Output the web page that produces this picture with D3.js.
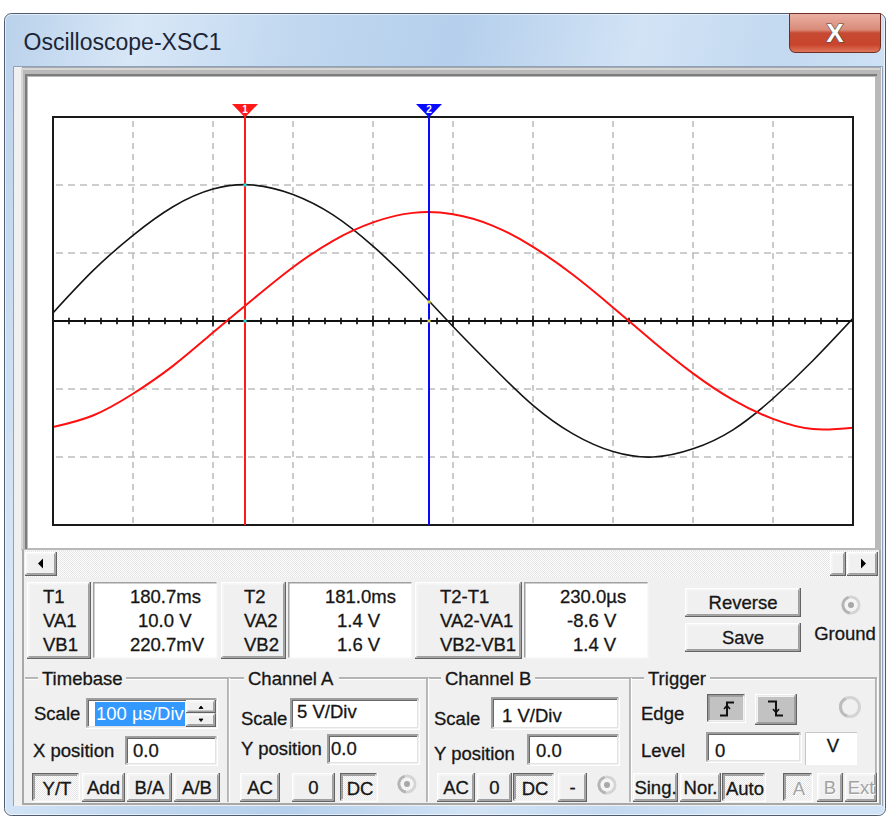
<!DOCTYPE html>
<html><head><meta charset="utf-8">
<script src="https://cdn.jsdelivr.net/npm/d3@7"></script>
<style>html,body{margin:0;padding:0;background:#fff;}svg{display:block;}</style>
</head><body>
<svg id="c" width="888" height="820"></svg>
<script>
// ---------------- DATA ----------------
const timeUs = [0,50,100,150,200,250,300,350,400,450,500,550,600,650,700,750,800,850,900,950,1000];
const channelAVolts = [0.6,3.7,6.3,8.4,9.7,10.0,9.3,7.8,5.5,2.7,-0.4,-3.4,-6.2,-8.3,-9.6,-10.0,-9.4,-8.0,-5.7,-2.9,0.2];
const channelBVolts = [-1.56,-1.39,-1.07,-0.66,-0.17,0.32,0.79,1.18,1.45,1.59,1.57,1.40,1.09,0.68,0.20,-0.30,-0.77,-1.16,-1.44,-1.59,-1.57];
const channelAVoltsPerDiv = 5;
const channelBVoltsPerDiv = 1;
const timeDomainUs = [0, 1000];
const divDomain = [-3, 3];
const gridTimesUs = [100,200,300,400,500,600,700,800,900];
const gridDivs = [-2,-1,1,2];
const majorTickStepUs = 100;
const minorTickStepUs = 20;
const cursorTimesUs = [240, 470];
const cursorNames = ["1","2"];
const cursorAVolts = [10.0, 1.4];
const readoutLabels = [["T1","VA1","VB1"],["T2","VA2","VB2"],["T2-T1","VA2-VA1","VB2-VB1"]];
const readoutValues = [["180.7ms","10.0 V","220.7mV"],["181.0ms","1.4 V","1.6 V"],["230.0µs","-8.6 V","1.4 V"]];
const windowTitle = "Oscilloscope-XSC1";

// ---------------- SETUP ----------------
const svg = d3.select('#c');
const defs = svg.append('defs');
const FONT = '"Liberation Sans", Arial, Helvetica, sans-serif';
const TXT = '#161616';
const FS = 18.5;

function grad(id, stops, x2, y2){
  const g = defs.append('linearGradient').attr('id', id)
    .attr('x1',0).attr('y1',0).attr('x2',x2).attr('y2',y2);
  stops.forEach(s => g.append('stop').attr('offset', s[0]).attr('stop-color', s[1]));
}
grad('frameG', [[0,'#b9d1eb'],[0.15,'#d8e7f7'],[0.33,'#c0d7ef'],[0.5,'#b5cfec'],[0.7,'#d2e3f5'],[0.85,'#c3d9f0'],[1,'#d0e2f5']], 1, 0.2);
grad('closeG', [[0,'#eab1a4'],[0.42,'#d98a78'],[0.5,'#c64a33'],[0.8,'#c9442c'],[1,'#e07a5f']], 0, 1);
const pat = defs.append('pattern').attr('id','dither').attr('width',2).attr('height',2).attr('patternUnits','userSpaceOnUse');
pat.append('rect').attr('width',2).attr('height',2).attr('fill','#ffffff');
pat.append('rect').attr('width',1).attr('height',1).attr('fill','#e4e4e4');
pat.append('rect').attr('x',1).attr('y',1).attr('width',1).attr('height',1).attr('fill','#e4e4e4');

function rect(g,x,y,w,h,fill,stroke,sw){
  const r = g.append('rect').attr('x',x).attr('y',y).attr('width',w).attr('height',h).attr('fill',fill||'none');
  if (stroke) r.attr('stroke',stroke).attr('stroke-width',sw||1);
  return r;
}
function path(g,d,stroke,sw,fill){
  return g.append('path').attr('d',d).attr('stroke',stroke).attr('stroke-width',sw||1).attr('fill',fill||'none');
}
function text(g,x,y,s,opts){
  opts = opts||{};
  const fill = opts.fill||TXT;
  const t = g.append('text').attr('x',x).attr('y',y).text(s)
    .attr('font-family',FONT).attr('font-size',opts.size||FS)
    .attr('fill',fill).attr('text-anchor',opts.anchor||'start')
    .attr('font-weight',opts.weight||'normal');
  if (!opts.noStroke) t.attr('stroke',fill).attr('stroke-width',0.3);
  return t;
}
// 3D frames: raised / sunken
function bevel(g,x,y,w,h,tl1,br1,tl2,br2,fill){
  if (fill) rect(g,x,y,w,h,fill);
  const t = 1.5;
  path(g,`M${x+t/2},${y+h} V${y+t/2} H${x+w}`, tl1, t);
  path(g,`M${x},${y+h-t/2} H${x+w-t/2} V${y}`, br1, t);
  path(g,`M${x+t*1.5},${y+h-t} V${y+t*1.5} H${x+w-t}`, tl2, t);
  path(g,`M${x+t},${y+h-t*1.5} H${x+w-t*1.5} V${y+t}`, br2, t);
}
function raised(g,x,y,w,h,fill){ bevel(g,x,y,w,h,'#ffffff','#646464','#f4f4f4','#a0a0a0',fill||'#f0f0f0'); }
function sunken(g,x,y,w,h,fill){ bevel(g,x,y,w,h,'#a0a0a0','#ffffff','#696969','#e3e3e3',fill||'#ffffff'); }
function button(g,x1,x2,y1,y2,label,opt){
  opt = opt||{};
  const w=x2-x1, h=y2-y1;
  if (opt.pressed) bevel(g,x1,y1,w,h,'#646464','#ffffff','#a0a0a0','#f0f0f0',opt.fill||'url(#dither)');
  else raised(g,x1,y1,w,h,opt.fill);
  if (label!==undefined){
    const bx=(x1+x2)/2+(opt.pressed?1:0), by=y1+h/2+6.6+(opt.pressed?1:0);
    if (opt.disabled){
      text(g,bx+1,by+1,label,{anchor:'middle',fill:'#ffffff',noStroke:true});
      text(g,bx,by,label,{anchor:'middle',fill:'#a3a3a3',noStroke:true});
    } else text(g,bx,by,label,{anchor:'middle'});
  }
}
function radio(g,cx,cy,dot){
  path(g, d3.arc()({innerRadius:6.5,outerRadius:9.5,startAngle:0,endAngle:2*Math.PI}), 'none',0,'#d4d4d4').attr('transform',`translate(${cx},${cy})`);
  path(g, d3.arc()({innerRadius:6.5,outerRadius:9.5,startAngle:Math.PI*1.05,endAngle:Math.PI*1.9}), 'none',0,'#b4b4b4').attr('transform',`translate(${cx},${cy})`);
  g.append('circle').attr('cx',cx).attr('cy',cy).attr('r',6.5).attr('fill','#f4f4f4');
  if (dot) g.append('circle').attr('cx',cx).attr('cy',cy).attr('r',3).attr('fill','#a8a8a8');
}

// ---------------- WINDOW ----------------
const win = svg.append('g');
rect(win,4.5,13.5,881,802,'url(#frameG)','#4d5c70',1).attr('rx',7);
rect(win,5.5,14.5,879,800,'none','rgba(255,255,255,0.6)',1).attr('rx',6);
// close button
path(win,'M789.5,13.5 H880.5 V46 Q880.5,52.5 874,52.5 H796 Q789.5,52.5 789.5,46 Z','#6e2e24',1,'url(#closeG)');
text(win,835,42,'X',{size:26,weight:'bold',anchor:'middle',fill:'#ffffff',noStroke:true}).attr('stroke','#4a4a4a').attr('stroke-width',1.2).attr('paint-order','stroke');
// title
text(win,23.5,50,windowTitle,{size:23,fill:'#1c2635',noStroke:true});

// client area
rect(win,14,67,868,739,'#f0f0f0');
path(win,'M13.5,806 V66.5 H882.5 V806','#8da2bb',1);
rect(win,23,68,857,736,'none','#a8a8a8',2);

// ---------------- SCREEN ----------------
const scr = svg.append('g');
rect(scr,21,68,860,482,'#b9b9b9');
path(scr,'M22,549 V69 H880','#d6d6d6',2);
path(scr,'M26,549 V75 H877','#7c7c7c',2);
rect(scr,28,77,847,471,'#ffffff');

const x = d3.scaleLinear().domain(timeDomainUs).range([53,853]);
const y = d3.scaleLinear().domain(divDomain).range([525,117]);

defs.append('clipPath').attr('id','plotClip').append('rect')
  .attr('x',x(timeDomainUs[0])).attr('y',y(divDomain[1])).attr('width',x(timeDomainUs[1])-x(timeDomainUs[0])).attr('height',y(divDomain[0])-y(divDomain[1]));

const plot = scr.append('g');
// grid
plot.selectAll('.vg').data(gridTimesUs).join('line')
  .attr('x1',d=>x(d)).attr('x2',d=>x(d)).attr('y1',y(divDomain[1])+4).attr('y2',y(divDomain[0]))
  .attr('stroke','#bdbdbd').attr('stroke-width',1.6).attr('stroke-dasharray','6,5');
plot.selectAll('.hg').data(gridDivs).join('line')
  .attr('y1',d=>y(d)).attr('y2',d=>y(d)).attr('x1',x(timeDomainUs[0])+3).attr('x2',x(timeDomainUs[1]))
  .attr('stroke','#bdbdbd').attr('stroke-width',1.6).attr('stroke-dasharray','7,5');
// center axis with ticks
const y0 = y(0);
plot.append('line').attr('x1',x(timeDomainUs[0])).attr('x2',x(timeDomainUs[1])).attr('y1',y0).attr('y2',y0)
  .attr('stroke','#111').attr('stroke-width',2);
const minorTicks = d3.range(timeDomainUs[0], timeDomainUs[1]+1, minorTickStepUs);
plot.selectAll('.tk').data(minorTicks).join('line')
  .attr('x1',d=>x(d)).attr('x2',d=>x(d))
  .attr('y1',d=>y0-(d%majorTickStepUs===0?5.5:3.2)).attr('y2',d=>y0+(d%majorTickStepUs===0?5.5:3.2))
  .attr('stroke','#111').attr('stroke-width',1.7);

// signals
const lineGen = d3.line().x(d=>x(d.t)).y(d=>y(d.v)).curve(d3.curveNatural);
const dataA = timeUs.map((t,i)=>({t, v: channelAVolts[i]/channelAVoltsPerDiv}));
const dataB = timeUs.map((t,i)=>({t, v: channelBVolts[i]/channelBVoltsPerDiv}));
const sig = plot.append('g').attr('clip-path','url(#plotClip)');
sig.append('path').attr('d',lineGen(dataA)).attr('fill','none').attr('stroke','#151515').attr('stroke-width',1.6);
sig.append('path').attr('d',lineGen(dataB)).attr('fill','none').attr('stroke','#ff1010').attr('stroke-width',2);

// plot border
rect(plot,x(timeDomainUs[0]),y(divDomain[1]),x(timeDomainUs[1])-x(timeDomainUs[0]),y(divDomain[0])-y(divDomain[1]),'none','#1a1a1a',2);

// cursors
const cursorColors = ['#ff1a1a','#0a0aff'];
const dotColors = ['#22dddd','#d8d040'];
cursorTimesUs.forEach((t,i)=>{
  const cx = x(t);
  plot.append('line').attr('x1',cx).attr('x2',cx).attr('y1',y(divDomain[1])).attr('y2',y(divDomain[0]))
    .attr('stroke',cursorColors[i]).attr('stroke-width',2);
  plot.append('path').attr('d',`M${cx-13},104 H${cx+13} L${cx},117.5 Z`).attr('fill',cursorColors[i]);
  text(plot,cx,113,cursorNames[i],{size:10,weight:'bold',anchor:'middle',fill:'#ffffff',noStroke:true});
  [0, cursorAVolts[i]/channelAVoltsPerDiv].forEach(v=>{
    plot.append('rect').attr('x',cx-1.5).attr('y',y(v)-1.5).attr('width',3).attr('height',3).attr('fill',dotColors[i]);
  });
});

// scrollbar
const sb = svg.append('g');
rect(sb,25,551,853,26,'url(#dither)');
button(sb,25,57,552,576);
path(sb,'M38,563.5 L43,558.5 V568.5 Z','none',0,'#000');
button(sb,830,846,552,576);
button(sb,847,878,552,576);
path(sb,'M866,563.5 L861,558.5 V568.5 Z','none',0,'#000');

// ---------------- READOUTS ----------------
const ro = svg.append('g');
const labelBoxes = [[27,91],[221,286],[415,522]];
const valueBoxes = [[93,218],[288,413],[524,649]];
const labelX = [43,244,440];
const valueX = [[130,138,130],[325,337,337],[560,567,573]];
const rowBase = [603,627,651];
labelBoxes.forEach((b,i)=>{
  raised(ro,b[0],582,b[1]-b[0],77);
  const vb = valueBoxes[i];
  rect(ro,vb[0],582,vb[1]-vb[0],77,'#ffffff');
  path(ro,`M${vb[0]+0.75},659 V582.75 H${vb[1]}`,'#a0a0a0',1.5);
  path(ro,`M${vb[0]},658.25 H${vb[1]-0.75} V582`,'#f4f4f4',1.5);
  readoutLabels[i].forEach((s,j)=>text(ro,labelX[i],rowBase[j],s));
  readoutValues[i].forEach((s,j)=>text(ro,valueX[i][j],rowBase[j]-0.5,s));
});
button(ro,685,801,588,617,'Reverse');
button(ro,685,801,623,652,'Save');
radio(ro,851,605,true);
text(ro,845,640,'Ground',{anchor:'middle'});

// ---------------- GROUP BOXES ----------------
const gb = svg.append('g');
function etchH(x1,x2,yy){ path(gb,`M${x1},${yy} H${x2}`,'#a0a0a0',1.5); path(gb,`M${x1},${yy+1.5} H${x2}`,'#ffffff',1.2); }
function etchV(xx,y1,y2){ path(gb,`M${xx},${y1} V${y2}`,'#a0a0a0',1.5); path(gb,`M${xx+1.5},${y1} V${y2}`,'#ffffff',1.2); }
const groupTitles = [['Timebase',42,80],['Channel A',248,87],['Channel B',445,86],['Trigger',648,58]];
const gTop = 678;
let prev = 25;
groupTitles.forEach(t=>{ etchH(prev,t[1]-4,gTop); prev = t[1]+t[2]+4; });
etchH(prev,877,gTop);
[228,427,630].forEach(xx=>etchV(xx,gTop,802));
etchV(876,gTop,802);
groupTitles.forEach(t=>text(gb,t[1],685,t[0]));

// Timebase
text(gb,34,720,'Scale');
sunken(gb,86,698,132,31);
gb.append('rect').attr('x',95).attr('y',702).attr('width',90).attr('height',24).attr('fill','#3399ff');
defs.append('clipPath').attr('id','tbClip').append('rect').attr('x',89).attr('y',700).attr('width',96).attr('height',28);
text(gb,96,720,'100 µs/Div',{fill:'#ffffff',noStroke:true}).attr('clip-path','url(#tbClip)');
button(gb,186,216,700,713.5);
button(gb,186,216,713.5,727);
path(gb,'M199,708.5 H203 L201,706 Z','#000',0.8,'#000');
path(gb,'M199,719 H203 L201,721.5 Z','#000',0.8,'#000');
text(gb,33,757,'X position');
sunken(gb,125,736,93,30);
text(gb,133,757,'0.0');
button(gb,32,80,773,802,'Y/T',{pressed:true});
button(gb,82,125,773,802,'Add');
button(gb,127,172,773,802,'B/A');
button(gb,174,220,773,802,'A/B');

// Channel A
text(gb,241,725,'Scale');
sunken(gb,290,698,130,32);
text(gb,297,718,'5 V/Div');
text(gb,241,755,'Y position');
sunken(gb,327,734,93,31);
text(gb,331,755,'0.0');
button(gb,240,280,773,802,'AC');
button(gb,292,335,773,802,'0');
button(gb,340,378,773,802,'DC',{pressed:true});
radio(gb,407,784,true);

// Channel B
text(gb,434,725,'Scale');
sunken(gb,491,697,129,33);
text(gb,502,722,'1 V/Div');
text(gb,434,760,'Y position');
sunken(gb,527,734,93,32);
text(gb,536,757,'0.0');
button(gb,437,475,773,802,'AC');
button(gb,477,512,773,802,'0');
button(gb,513,555,773,802,'DC',{pressed:true});
button(gb,558,587,773,802,'-');
radio(gb,607,785,true);

// Trigger
text(gb,641,720,'Edge');
button(gb,707,746,694,723,undefined,{pressed:true,fill:'#c2c2c2'});
path(gb,'M720,715.5 H727 V702.5 H734','#111',2);
path(gb,'M724,709 L727,705.5 L730,709','#111',1.6);
button(gb,755,797,694,725,undefined,{fill:'#c2c2c2'});
path(gb,'M768,701.5 H776 V715.5 H783','#111',2);
path(gb,'M773,709 L776,712.5 L779,709','#111',1.6);
path(gb, d3.arc()({innerRadius:8,outerRadius:11,startAngle:0,endAngle:2*Math.PI}),'none',0,'#d3d3d3').attr('transform','translate(850,707)');
path(gb, d3.arc()({innerRadius:8,outerRadius:11,startAngle:Math.PI*1.1,endAngle:Math.PI*1.85}),'none',0,'#bcbcbc').attr('transform','translate(850,707)');
text(gb,641,757,'Level');
sunken(gb,706,732,96,31);
text(gb,715,757,'0');
rect(gb,805,732,52,33,'#ffffff');
path(gb,'M805.5,765 V732.5 H857','#c8c8c8',1);
text(gb,833,752,'V',{anchor:'middle'});
button(gb,633,678,773,802,'Sing.');
button(gb,680,721,773,802,'Nor.');
button(gb,722,766,773,802,'Auto',{pressed:true});
button(gb,783,813,773,802,'A',{pressed:true,disabled:true});
button(gb,817,843,773,802,'B',{disabled:true});
button(gb,845,877,773,802,'Ext',{disabled:true});
</script>
</body></html>
